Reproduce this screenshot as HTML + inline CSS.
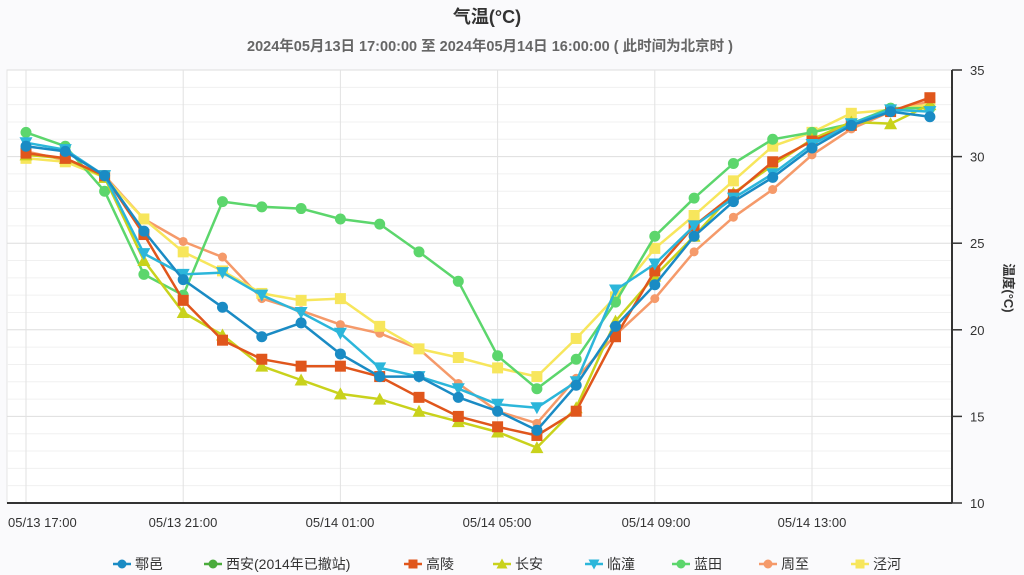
<!DOCTYPE html>
<html><head><meta charset="utf-8"><style>
html,body{margin:0;padding:0;background:#fafafc;}
svg{display:block;font-family:"Liberation Sans","Noto Sans CJK SC",sans-serif;}
</style></head><body>
<svg id="c" width="1024" height="575" viewBox="0 0 1024 575" xmlns="http://www.w3.org/2000/svg">
<rect x="0" y="0" width="1024" height="575" fill="#fafafc"/>
<text x="487" y="23" text-anchor="middle" font-size="18" font-weight="bold" fill="#333">气温(°C)</text>
<text x="490" y="51" text-anchor="middle" font-size="14.5" font-weight="bold" fill="#666">2024年05月13日 17:00:00 至 2024年05月14日 16:00:00 ( 此时间为北京时 )</text>
<rect x="7" y="70" width="945" height="433" fill="#fff" stroke="#e4e4e4"/>
<g id="grid"></g>
<g id="series"></g>
<line x1="7" y1="503" x2="952" y2="503" stroke="#333" stroke-width="2"/>
<line x1="952" y1="70" x2="952" y2="503" stroke="#333" stroke-width="2"/>
<g id="yt" font-size="13" fill="#333"></g>
<g font-size="13" fill="#333">
<text x="8" y="527">05/13 17:00</text>
<text x="183" y="527" text-anchor="middle">05/13 21:00</text>
<text x="340" y="527" text-anchor="middle">05/14 01:00</text>
<text x="497" y="527" text-anchor="middle">05/14 05:00</text>
<text x="656" y="527" text-anchor="middle">05/14 09:00</text>
<text x="812" y="527" text-anchor="middle">05/14 13:00</text>
</g>
<text x="0" y="0" font-size="13" font-weight="bold" fill="#333" transform="translate(1004,288) rotate(90)" text-anchor="middle">温度(°C)</text>
<g id="leg" font-size="14" fill="#333"></g>
</svg>
<script>
var NS="http://www.w3.org/2000/svg";
function el(p,t,a,txt){var e=document.createElementNS(NS,t);for(var k in a)e.setAttribute(k,a[k]);if(txt)e.textContent=txt;p.appendChild(e);return e;}
var X=function(i){return 26+39.3*i;};
var Y=function(v){return 70+(35-v)*17.32;};
var g=document.getElementById('grid');
for(var v=10;v<=35;v++){el(g,'line',{x1:7,x2:952,y1:Y(v),y2:Y(v),stroke:v%5==0?'#dedede':'#f0f0f0','stroke-width':1});}
for(var i=0;i<24;i+=4){el(g,'line',{x1:X(i),x2:X(i),y1:70,y2:503,stroke:'#e2e2e2'});}
var yt=document.getElementById('yt');
for(var v=10;v<=35;v+=5){el(yt,'line',{x1:952,x2:962,y1:Y(v),y2:Y(v),stroke:'#333','stroke-width':1.5});el(yt,'text',{x:970,y:Y(v)+5},String(v));}
var S=[
["鄠邑","#1a8bc4","c",[30.6,30.3,28.9,25.7,22.9,21.3,19.6,20.4,18.6,17.3,17.3,16.1,15.3,14.2,16.8,20.2,22.6,25.4,27.4,28.8,30.5,31.8,32.6,32.3]],
["西安(2014年已撤站)","#4aab3c","c",null],
["高陵","#e0561c","s",[30.2,29.9,28.9,25.5,21.7,19.4,18.3,17.9,17.9,17.3,16.1,15.0,14.4,13.9,15.3,19.6,23.4,26.0,27.8,29.7,30.9,31.8,32.6,33.4]],
["长安","#c9d21c","t",[30.1,29.9,28.8,24.0,21.0,19.7,17.9,17.1,16.3,16.0,15.3,14.7,14.1,13.2,15.5,20.5,23.1,25.4,27.9,29.5,31.0,32.0,31.9,33.0]],
["临潼","#2cb6da","v",[30.8,30.4,28.9,24.4,23.2,23.3,22.0,21.0,19.8,17.8,17.3,16.6,15.7,15.5,17.0,22.3,23.8,26.0,27.6,29.0,30.7,31.9,32.7,32.6]],
["蓝田","#5cd66c","c",[31.4,30.6,28.0,23.2,22.0,27.4,27.1,27.0,26.4,26.1,24.5,22.8,18.5,16.6,18.3,21.6,25.4,27.6,29.6,31.0,31.4,31.9,32.8,32.8]],
["周至","#f59a6a","c",[30.3,29.8,28.9,26.4,25.1,24.2,21.8,21.1,20.3,19.8,18.9,16.9,15.3,14.6,17.2,19.7,21.8,24.5,26.5,28.1,30.1,31.6,32.6,33.2]],
["泾河","#f7e65c","s",[29.9,29.7,28.8,26.4,24.5,23.4,22.1,21.7,21.8,20.2,18.9,18.4,17.8,17.3,19.5,21.9,24.7,26.6,28.6,30.6,31.4,32.5,32.7,33.0]]
];
function marker(p,type,x,y,c,r){
 if(type=="c")el(p,'circle',{cx:x,cy:y,r:r,fill:c});
 else if(type=="s")el(p,'rect',{x:x-r,y:y-r,width:2*r,height:2*r,fill:c});
 else if(type=="t")el(p,'path',{d:"M"+x+","+(y-r-1)+"L"+(x+r+1)+","+(y+r)+"L"+(x-r-1)+","+(y+r)+"Z",fill:c});
 else el(p,'path',{d:"M"+x+","+(y+r+1)+"L"+(x+r+1)+","+(y-r)+"L"+(x-r-1)+","+(y-r)+"Z",fill:c});
}
var sg=document.getElementById('series');
var order=[6,7,5,3,2,4,0];
order.forEach(function(k){var s=S[k];var d="";s[3].forEach(function(v,i){d+=(i?"L":"M")+X(i).toFixed(1)+","+Y(v).toFixed(1);});
 el(sg,'path',{d:d,fill:'none',stroke:s[1],'stroke-width':2.5,'stroke-linejoin':'round'});
 s[3].forEach(function(v,i){marker(sg,s[2],X(i),Y(v),s[1],k==6?4.5:5.5);});});
var lg=document.getElementById('leg');
var mx=[122,213,413,502,594,681,768,860];
S.forEach(function(s,k){var x=mx[k],y=564;
 el(lg,'line',{x1:x-9,x2:x+9,y1:y,y2:y,stroke:s[1],'stroke-width':2.5});
 marker(lg,s[2],x,y,s[1],4.5);
 el(lg,'text',{x:x+13,y:y+5},s[0]);});
</script>
</body></html>
